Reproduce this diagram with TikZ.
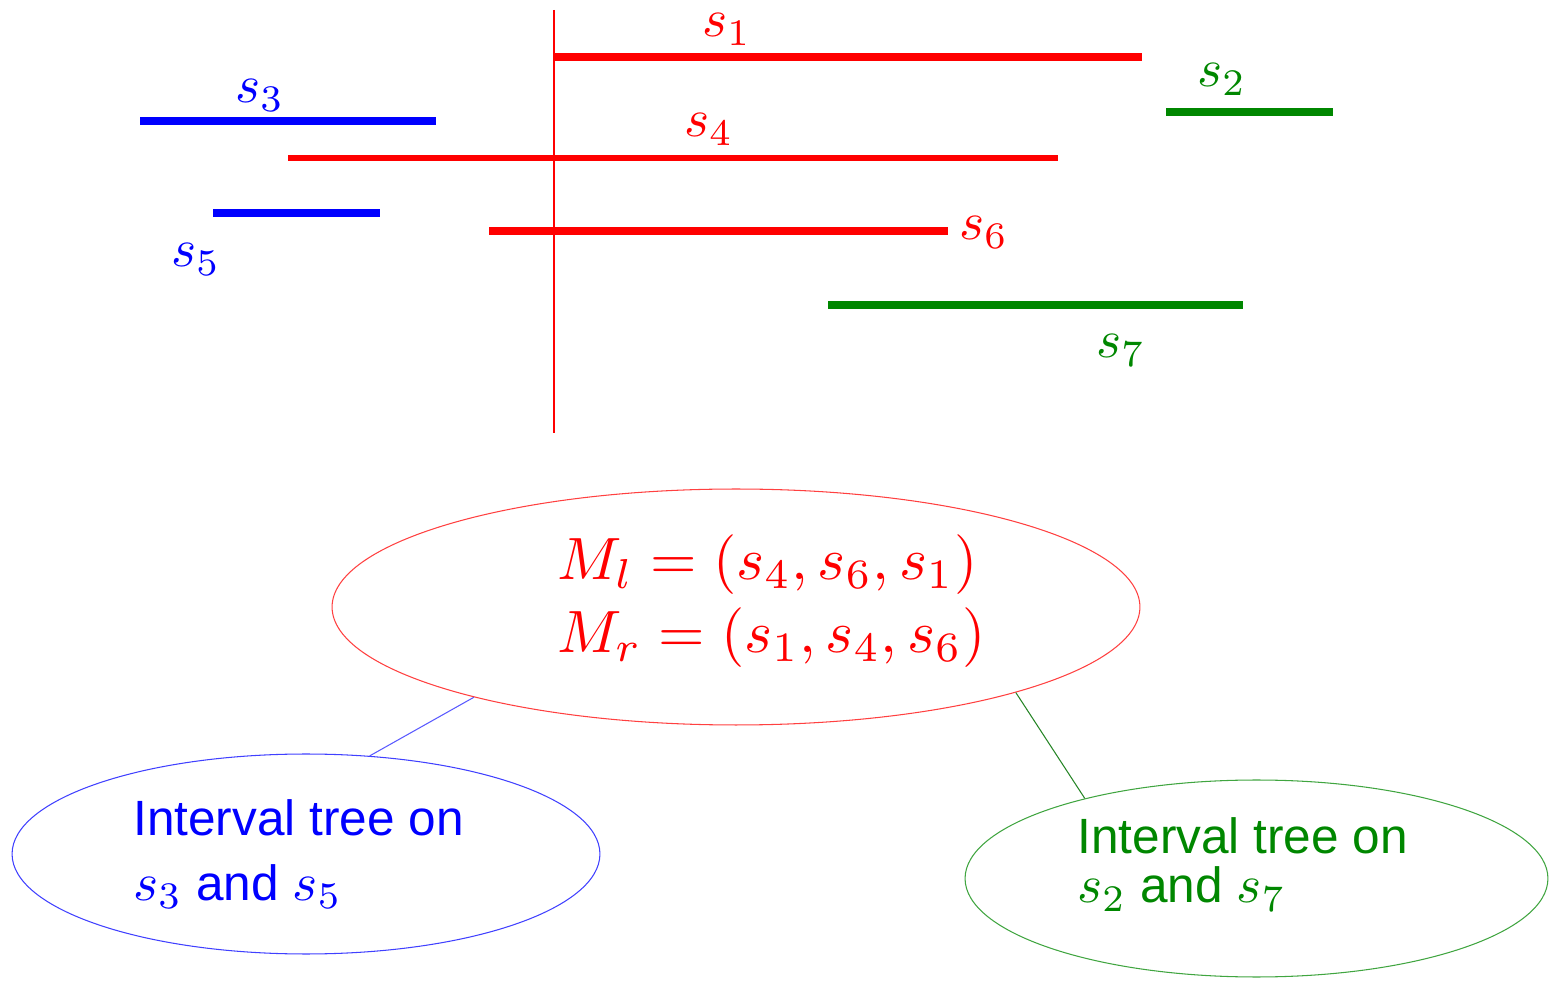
\documentclass[tikz,border=0pt]{standalone}
\usepackage{graphicx}
\usepackage{fontspec}
\newfontfamily\arialfont{Liberation Sans}
\usetikzlibrary{shapes.geometric}
\definecolor{myred}{RGB}{255,0,0}
\definecolor{myblue}{RGB}{0,0,255}
\definecolor{mygreen}{RGB}{0,135,0}
\tikzset{
  seg/.style={line width=4pt},
  lbl/.style={anchor=base west, inner sep=0pt},
  eq/.style={anchor=base west, inner sep=0pt},
  oval/.style={ellipse, draw, line width=0.6pt, inner sep=0pt},
  txt/.style={anchor=base west, inner sep=0pt, font=\arialfont\fontsize{28.2}{33}\selectfont},
  link/.style={line width=0.6pt}
}
\newcommand{\bigmath}[2]{\scalebox{#1}{\fontsize{10}{12}\selectfont$#2$}}
\begin{document}
\begin{tikzpicture}[x=0.02cm,y=-0.02cm]
\useasboundingbox (0,0) rectangle (1549,982);
% vertical median line
\draw[myred, line width=1.6pt] (554,10) -- (554,433);
% segments
\draw[seg, myred] (554,57) -- (1142,57);
\draw[seg, mygreen] (1166,112) -- (1333,112);
\draw[seg, myblue, line width=4.4pt] (140,121) -- (436,121);
\draw[seg, myred, line width=3.3pt] (288,158) -- (1058,158);
\draw[seg, myblue, line width=4.4pt] (213,213) -- (380,213);
\draw[seg, myred] (489,231) -- (948,231);
\draw[seg, mygreen] (828,305) -- (1243,305);
% labels
\node[lbl, myred] (l1) at (702,37) {\bigmath{3.05}{s_1}};
\node[lbl, mygreen] (l2) at (1197,87) {\bigmath{3.05}{s_2}};
\node[lbl, myblue] (l3) at (235,103) {\bigmath{3.05}{s_3}};
\node[lbl, myred] (l4) at (684,137) {\bigmath{3.05}{s_4}};
\node[lbl, myblue] (l5) at (171,267) {\bigmath{3.05}{s_5}};
\node[lbl, myred] (l6) at (959,240) {\bigmath{3.05}{s_6}};
\node[lbl, mygreen] (l7) at (1096,358) {\bigmath{3.05}{s_7}};
% ellipses
\node[oval, myred!75, minimum width=16.16cm, minimum height=4.72cm] (root) at (736,607) {};
\node[oval, myblue!75, minimum width=11.76cm, minimum height=4cm] (left) at (306,854) {};
\node[oval, mygreen!75, minimum width=11.66cm, minimum height=3.94cm] (right) at (1256.5,878.5) {};
% texts
\node[eq, myred] (ml) at (557,580) {\bigmath{3.4}{M_l = (s_4, s_6, s_1)}};
\node[eq, myred] (mr) at (557,653) {\bigmath{3.4}{M_r = (s_1, s_4, s_6)}};
\node[txt, myblue] (b1) at (133,836) {Interval tree on};
\node[txt, myblue] (b2) at (133,900) {\bigmath{3.05}{s_3} and \bigmath{3.05}{s_5}};
\node[txt, mygreen] (g1) at (1077,853) {Interval tree on};
\node[txt, mygreen] (g2) at (1077,903) {\bigmath{3.05}{s_2} and \bigmath{3.05}{s_7}};
% connectors
\draw[link, myblue!65] (root.199) -- (left.57);
\draw[link, mygreen!70!gray] (root.343) -- (right.155);
\end{tikzpicture}
\end{document}
